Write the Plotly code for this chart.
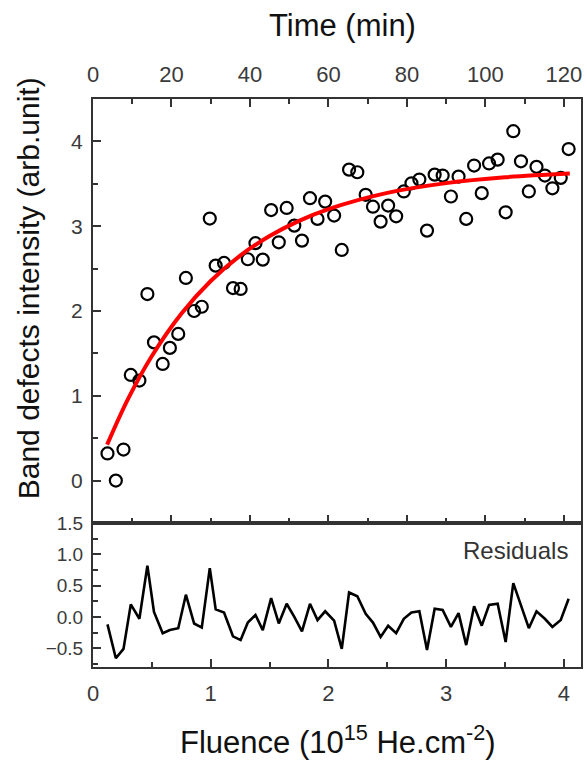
import plotly.graph_objects as go

# Measured band-defect intensity vs He fluence (10^15 He.cm^-2)
fluence = [0.123, 0.194, 0.259, 0.321, 0.394, 0.462, 0.518, 0.592, 0.653, 0.724,
           0.789, 0.859, 0.924, 0.992, 1.042, 1.113, 1.189, 1.254, 1.315, 1.380,
           1.442, 1.513, 1.578, 1.645, 1.710, 1.775, 1.843, 1.907, 1.972, 2.048,
           2.113, 2.175, 2.245, 2.316, 2.378, 2.443, 2.507, 2.575, 2.640, 2.705,
           2.772, 2.837, 2.902, 2.970, 3.040, 3.105, 3.170, 3.237, 3.302, 3.364,
           3.437, 3.505, 3.570, 3.635, 3.702, 3.767, 3.838, 3.902, 3.973, 4.040]
intensity = [0.32, 0.00, 0.366, 1.246, 1.18, 2.20, 1.63, 1.376, 1.565, 1.73,
             2.39, 2.00, 2.05, 3.09, 2.535, 2.567, 2.27, 2.26, 2.61, 2.80,
             2.606, 3.19, 2.81, 3.215, 3.007, 2.83, 3.33, 3.086, 3.29, 3.125,
             2.72, 3.667, 3.636, 3.37, 3.23, 3.054, 3.243, 3.117, 3.41, 3.506,
             3.55, 2.948, 3.608, 3.597, 3.35, 3.585, 3.086, 3.715, 3.39, 3.74,
             3.785, 3.164, 4.12, 3.765, 3.41, 3.70, 3.597, 3.447, 3.57, 3.91]
residuals = [-0.12, -0.66, -0.51, 0.20, -0.03, 0.82, 0.08, -0.26, -0.21, -0.18,
             0.355, -0.105, -0.17, 0.78, 0.12, 0.07, -0.31, -0.37, -0.09, 0.03,
             -0.21, 0.30, -0.105, 0.21, 0.0, -0.23, 0.21, -0.05, 0.09, -0.06,
             -0.51, 0.39, 0.33, 0.05, -0.09, -0.32, -0.14, -0.26, -0.03, 0.07,
             0.09, -0.53, 0.13, 0.11, -0.16, 0.06, -0.45, 0.17, -0.14, 0.19,
             0.21, -0.40, 0.54, 0.20, -0.18, 0.09, -0.03, -0.16, -0.05, 0.29]

# Saturation fit curve, sampled
fit_fluence = [0.12, 0.30, 0.50, 0.75, 1.00, 1.25, 1.50, 1.75, 2.00, 2.50, 3.00, 3.50, 4.05]
fit_values = [0.424, 0.970, 1.470, 1.968, 2.354, 2.653, 2.884, 3.063, 3.202, 3.393, 3.508, 3.577, 3.621]

# Time axis (min); 30 min of irradiation per 10^15 He.cm^-2
time_ticks = [0, 20, 40, 60, 80, 100, 120]
time_minor = [10, 30, 50, 70, 90, 110]
MIN_PER_FLUENCE = 30.0

FONT = "Liberation Sans, Arial, sans-serif"
AXC = "#333333"
TICKC = "#3a3a3a"

fig = go.Figure()

fig.add_trace(go.Scatter(
    x=fluence, y=intensity, mode="markers",
    marker=dict(symbol="circle-open", size=12, color="black", line=dict(width=2.2, color="black")),
    xaxis="x", yaxis="y", showlegend=False))

fig.add_trace(go.Scatter(
    x=fit_fluence, y=fit_values, mode="lines", line=dict(color="#ff0000", width=4, shape="spline"),
    xaxis="x", yaxis="y", showlegend=False))

fig.add_trace(go.Scatter(
    x=fluence, y=residuals, mode="lines", line=dict(color="black", width=2.6),
    xaxis="x2", yaxis="y2", showlegend=False))

split = 144 / 568
xrange = [0, 4.145]


def axis_style(size):
    return dict(showgrid=False, zeroline=False, showline=True, linecolor=AXC, linewidth=2,
                ticks="inside", tickcolor=AXC, tickwidth=1.5,
                tickfont=dict(family=FONT, size=size, color=TICKC))


def minor_ticks(vals):
    return dict(tickmode="array", tickvals=vals, ticklen=5, ticks="inside",
                tickcolor=AXC, tickwidth=1.5)


fig.update_layout(
    width=587, height=763,
    margin=dict(l=93, r=4, t=99, b=96),
    paper_bgcolor="white", plot_bgcolor="white",
    xaxis=dict(**axis_style(22), domain=[0, 1], anchor="y", side="top", range=xrange,
               tickmode="array", tickvals=[t / MIN_PER_FLUENCE for t in time_ticks],
               ticktext=[str(t) for t in time_ticks], ticklen=8, mirror="ticks",
               ticklabelstandoff=6,
               minor=minor_ticks([t / MIN_PER_FLUENCE for t in time_minor])),
    yaxis=dict(**axis_style(21), domain=[split, 1], anchor="x", range=[-0.5, 4.5],
               tickmode="array", tickvals=[0, 1, 2, 3, 4], ticklen=8, mirror=True,
               ticklabelstandoff=4,
               minor=minor_ticks([0.5, 1.5, 2.5, 3.5])),
    xaxis2=dict(**axis_style(22), domain=[0, 1], anchor="y2", range=xrange,
                tickmode="array", tickvals=[0, 1, 2, 3, 4], ticklen=8, mirror=True,
                ticklabelstandoff=6,
                minor=minor_ticks([0.5, 1.5, 2.5, 3.5])),
    yaxis2=dict(**axis_style(19), domain=[0, split], anchor="x2", range=[-0.8, 1.5],
                tickmode="array", tickvals=[-0.5, 0.0, 0.5, 1.0, 1.5], tickformat=".1f",
                ticklen=8, mirror=True, ticklabelstandoff=4,
                minor=minor_ticks([-0.75, -0.25, 0.25, 0.75, 1.25])),
)

ann = dict(xref="paper", yref="paper", showarrow=False, xanchor="center", yanchor="middle")
fig.add_annotation(**ann, x=(28 - 93) / 490, y=(667 - 288) / 568,
                   text="Band defects intensity (arb.unit)",
                   textangle=-90, font=dict(family=FONT, size=30, color="#111111"))
fig.add_annotation(**ann, x=(339 - 93) / 490, y=(667 - 740) / 568,
                   text="Fluence (10<sup>15</sup> He.cm<sup>-2</sup>)",
                   font=dict(family=FONT, size=31, color="#111111"))
fig.add_annotation(**ann, x=(344 - 93) / 490, y=(667 - 25) / 568, text="Time (min)",
                   font=dict(family=FONT, size=31, color="#111111"))
fig.add_annotation(xref="paper", yref="paper", showarrow=False, xanchor="right", yanchor="middle",
                   x=(572 - 93) / 490, y=(667 - 550) / 568,
                   text="Residuals", font=dict(family=FONT, size=24, color="#333333"))

fig.write_html("out.html")
